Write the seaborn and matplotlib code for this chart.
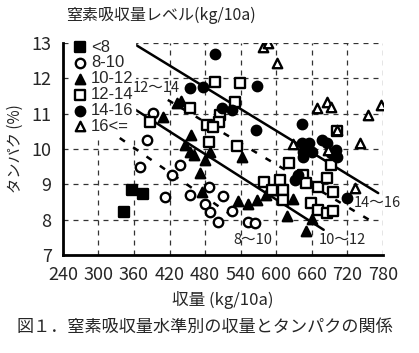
import pandas as pd
import matplotlib.pyplot as plt
import seaborn as sns

# 窒素吸収量レベル別の収量(kg/10a)とタンパク(%)
levels = ['<8', '8-10', '10-12', '12-14', '14-16', '16<=']

yield_lt8 = [343, 356, 375]
prot_lt8 = [8.22, 8.84, 8.73]

yield_8_10 = [382, 392, 370, 412, 424, 437, 454, 486, 479, 489, 501, 510, 525, 552, 564]
prot_8_10 = [10.26, 11.02, 9.49, 8.64, 9.26, 9.55, 8.70, 8.92, 8.45, 8.22, 7.93, 8.67, 8.25, 7.93, 7.91]

yield_10_12 = [409, 432, 440, 457, 446, 454, 462, 479, 488, 542, 471, 474, 535, 552, 567,
               582, 594, 618, 629, 651, 661]
prot_10_12 = [10.91, 11.30, 11.35, 10.40, 10.10, 9.92, 9.83, 9.69, 9.92, 9.77, 9.32, 8.78, 8.53,
              8.45, 8.56, 8.70, 8.84, 8.10, 8.58, 7.68, 8.03]

yield_12_14 = [387, 454, 496, 538, 530, 505, 503, 483, 493, 486, 533, 580, 606, 611, 592, 622,
               645, 651, 670, 685, 693, 695, 659, 670, 685, 695, 611, 703]
prot_12_14 = [10.77, 11.15, 11.90, 11.87, 11.33, 10.96, 10.77, 10.68, 10.63, 10.20, 10.08, 9.07,
              9.12, 8.84, 8.84, 9.60, 9.26, 9.04, 8.92, 9.18, 9.55, 8.78, 8.47, 8.27, 8.20, 8.25,
              8.56, 10.50]

yield_14_16 = [454, 476, 496, 567, 508, 525, 565, 643, 643, 656, 678, 645, 645, 661, 685, 693,
               701, 703, 631, 720, 636]
prot_14_16 = [11.73, 11.75, 12.69, 11.78, 11.16, 11.10, 10.54, 10.70, 10.17, 10.17, 10.26, 9.92,
              9.77, 9.92, 10.17, 9.88, 9.97, 9.77, 9.12, 8.61, 9.25]

yield_16 = [577, 586, 601, 668, 685, 693, 754, 776, 742, 629, 687, 732, 703]
prot_16 = [12.89, 13.0, 12.43, 11.16, 11.33, 11.19, 10.96, 11.25, 10.17, 10.14, 9.97, 8.90, 10.55]

# 回帰直線 (両端)
line_labels = ['8～10', '10～12', '12～14', '14～16']
line_x = [[336, 535], [358, 680], [417, 766], [358, 772]]
line_y = [[10.31, 8.0], [11.16, 7.71], [11.39, 7.9], [13.0, 8.75]]
label_x = [560, 712, 398, 770]
label_y = [7.42, 7.42, 11.73, 8.47]

rows = []
for lv, xs, ys in zip(levels,
                      [yield_lt8, yield_8_10, yield_10_12, yield_12_14, yield_14_16, yield_16],
                      [prot_lt8, prot_8_10, prot_10_12, prot_12_14, prot_14_16, prot_16]):
    for a, b in zip(xs, ys):
        rows.append({'level': lv, 'yield': a, 'protein': b})
df = pd.DataFrame(rows)

sns.set_style('white')
plt.rcParams['font.family'] = ['Liberation Sans Narrow', 'Noto Sans CJK JP', 'DejaVu Sans']
jp = ['Noto Sans CJK JP', 'DejaVu Sans']

fig = plt.figure(figsize=(4.19, 3.53), dpi=100)
ax = fig.add_axes([0.150, 0.278, 0.764, 0.600])

marker_style = {
    '<8': ('s', True), '8-10': ('o', False), '10-12': ('^', True),
    '12-14': ('s', False), '14-16': ('o', True), '16<=': ('^', False),
}
for lv in levels:
    m, filled = marker_style[lv]
    sub = df[df['level'] == lv]
    sns.scatterplot(data=sub, x='yield', y='protein', marker=m, s=46, color='black',
                    facecolor='black' if filled else 'white', edgecolor='black',
                    linewidth=1.7, ax=ax, label=lv, zorder=3)

for i in range(4):
    ls = '-' if line_labels[i] in ('10～12', '14～16') else (0, (2.5, 4))
    sns.lineplot(x=line_x[i], y=line_y[i], color='black', lw=1.8, linestyle=ls,
                 ax=ax, legend=False, zorder=2)
    ax.text(label_x[i], label_y[i], line_labels[i], ha='center', va='center',
            fontsize=10.5, family=jp, zorder=6)

ax.set_xlim(240, 780)
ax.set_ylim(7, 13)
ax.set_xticks(range(240, 781, 60))
ax.set_yticks(range(7, 14))
ax.grid(True, color='#333333', ls=(0, (4, 4)), lw=0.9)
ax.tick_params(direction='in', length=4, width=1.5, labelsize=13, pad=8)
for s in ['top', 'right']:
    ax.spines[s].set_visible(False)
for s in ['left', 'bottom']:
    ax.spines[s].set_linewidth(2)
    ax.spines[s].set_color('black')

ax.set_xlabel('収量 (kg/10a)', family=jp, fontsize=12, labelpad=5)
ax.set_ylabel('タンパク (%)', family=jp, fontsize=11, labelpad=6)

leg = ax.legend(loc='upper left', bbox_to_anchor=(0.012, 1.04), frameon=True, fancybox=False,
                edgecolor='white', framealpha=1, prop={'family': 'Liberation Sans', 'size': 12},
                handletextpad=0.15, handlelength=1.0, labelspacing=0.05, borderpad=0.1,
                borderaxespad=0.2)
leg.set_zorder(5)
ax.text(0.01, 1.13, '窒素吸収量レベル(kg/10a)', transform=ax.transAxes, family=jp,
        fontsize=11.5, va='center', ha='left')

fig.text(0.49, 0.074, '図１．窒素吸収量水準別の収量とタンパクの関係', family=jp,
         fontsize=12.3, ha='center', va='center')

fig.savefig('out.png', dpi=100)
